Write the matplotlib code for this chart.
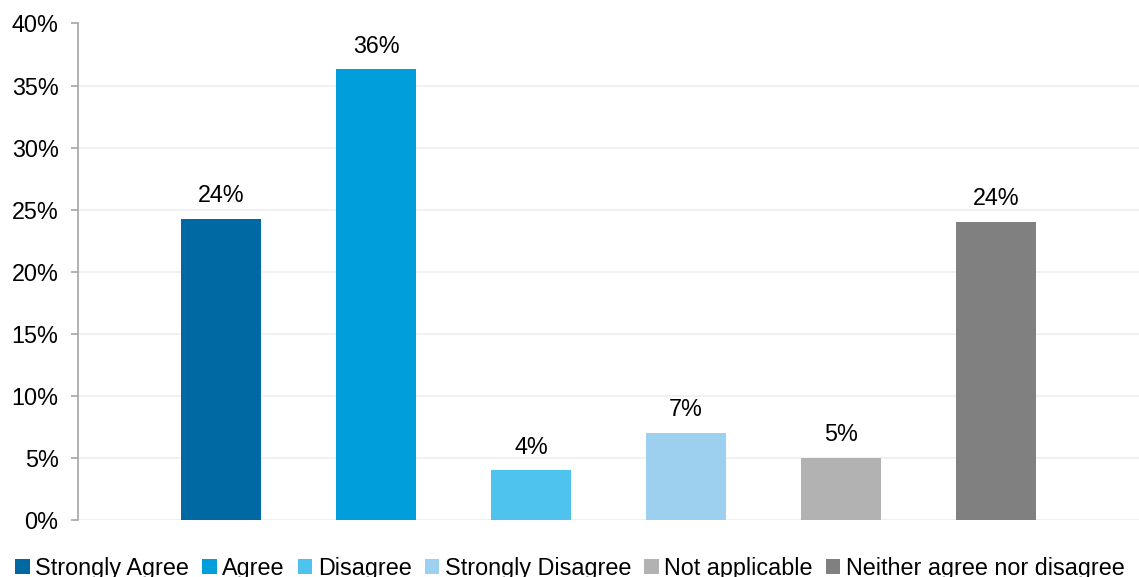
import matplotlib
matplotlib.use("Agg")
import matplotlib.pyplot as plt
from matplotlib.patches import Patch

categories = ["Strongly Agree", "Agree", "Disagree", "Strongly Disagree",
              "Not applicable", "Neither agree nor disagree"]
values = [24.25, 36.3, 4.0, 7.0, 5.0, 24.0]
labels = ["24%", "36%", "4%", "7%", "5%", "24%"]
colors = ["#0068A3", "#009FDB", "#4DC3EE", "#9DD0EE", "#B2B2B2", "#808080"]
yticks = [0, 5, 10, 15, 20, 25, 30, 35, 40]

plt.rcParams['font.family'] = ['Liberation Sans', 'DejaVu Sans']
FS = 16.8

fig = plt.figure(figsize=(11.39, 5.77), dpi=100)
W, H = 1139, 577
ax = fig.add_axes([78 / W, 1 - 520 / H, (1139 - 78) / W, (520 - 23.5) / H])

x = list(range(len(categories)))
bars = ax.bar(x, values, width=80 / 155, color=colors, zorder=3)
for xi, v, lab in zip(x, values, labels):
    ax.text(xi, v + 0.95, lab, ha='center', va='bottom', fontsize=FS, color='black')

ax.set_xlim(-(221 - 78) / 155, 5 + (1139 - 996) / 155)
ax.set_ylim(0, 40)
ax.set_yticks(yticks)
ax.set_yticklabels([f"{t}%" for t in yticks], fontsize=FS)
ax.set_xticks([])
ax.grid(axis='y', color='#EFEFEF', linewidth=1.2, zorder=0)
for s in ['top', 'right', 'bottom']:
    ax.spines[s].set_visible(False)
ax.spines['left'].set_color('#A6A6A6')
ax.spines['left'].set_linewidth(1.2)
ax.tick_params(axis='y', length=5, color='#A6A6A6', width=1.2, pad=9, labelcolor='black')
ax.axhline(0, color='#EFEFEF', linewidth=1.2, zorder=1)

handles = [Patch(facecolor=c, edgecolor='none') for c in colors]
fig.legend(handles, categories, loc='center', bbox_to_anchor=(570 / W, 1 - 568 / H),
           ncol=6, frameon=False, fontsize=FS, handlelength=0.62, handleheight=0.62,
           handletextpad=0.25, columnspacing=0.55, borderpad=0)

fig.savefig("out.png", dpi=100)
